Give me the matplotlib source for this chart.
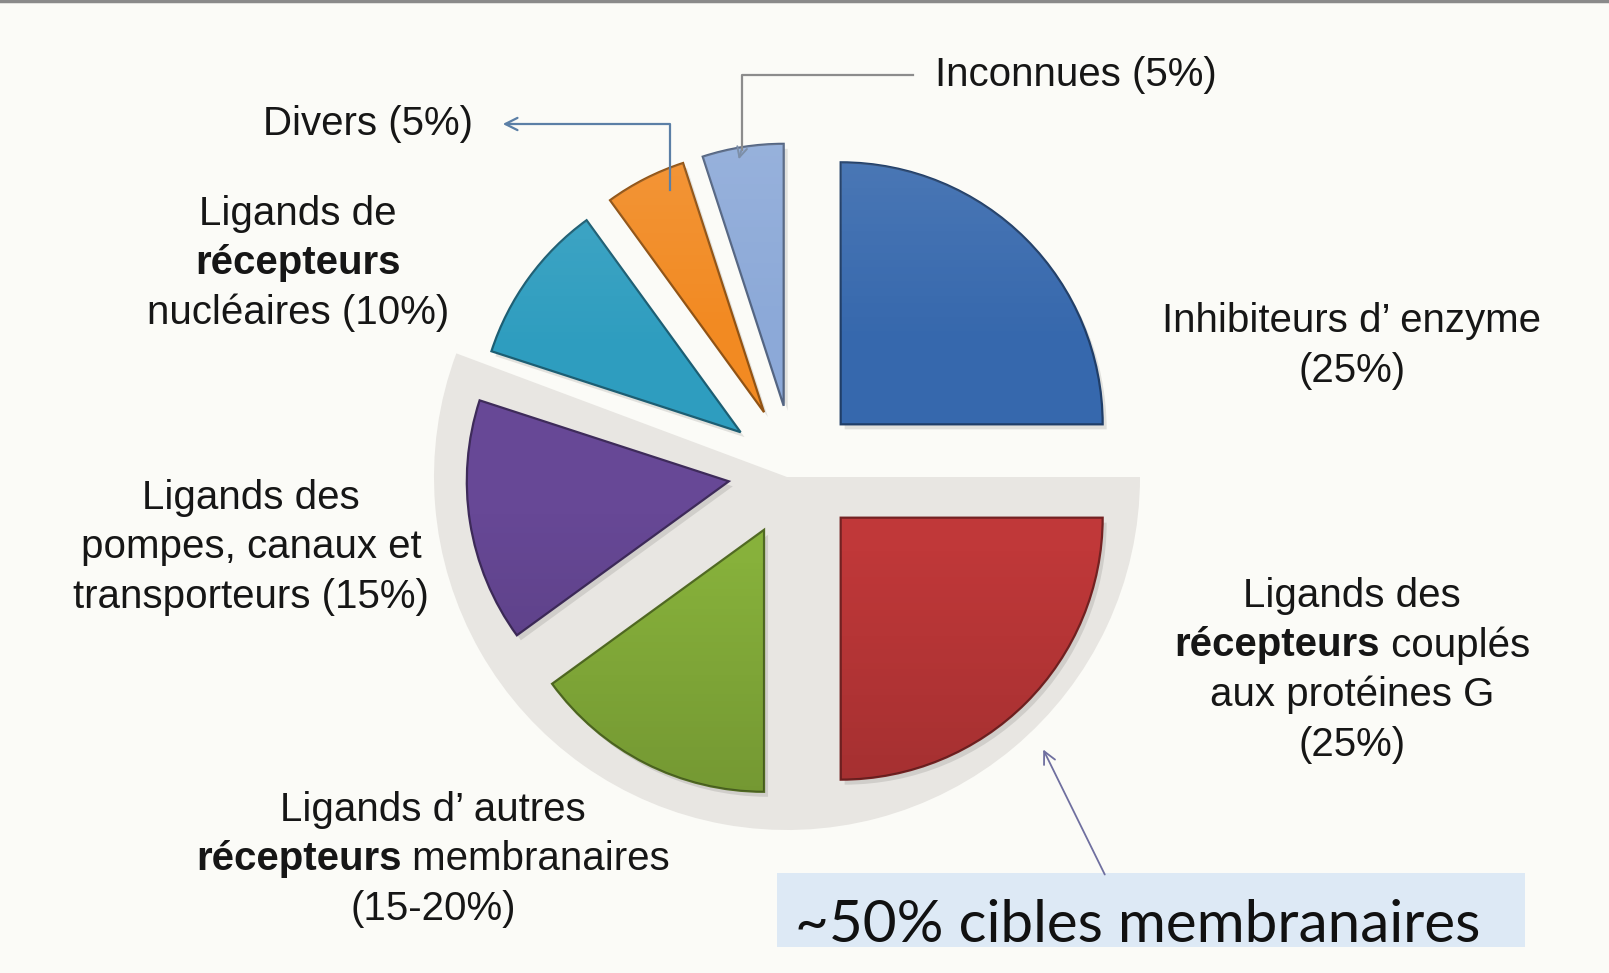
import numpy as np
import matplotlib
matplotlib.use("Agg")
import matplotlib.pyplot as plt
from matplotlib.patches import Wedge, Rectangle
from matplotlib.colors import to_rgb

W, H = 1609, 973
BG = "#fbfbf7"
FONT = ["Liberation Sans", "DejaVu Sans"]

# --- data -------------------------------------------------------------
categories = ["Inhibiteurs d’ enzyme",
              "Ligands des récepteurs couplés aux protéines G",
              "Ligands d’ autres récepteurs membranaires",
              "Ligands des pompes, canaux et transporteurs",
              "Ligands de récepteurs nucléaires",
              "Divers",
              "Inconnues"]
shares = [25, 25, 15, 15, 10, 5, 5]
is_membrane = [False, True, True, True, False, False, False]
colors = ["#3668ad", "#c03839", "#87b13b", "#674896", "#2e9dbf", "#f28a22", "#8ca9d8"]

# label lines: list of (text, weight) runs per line
label_lines = [
    [[("Inhibiteurs d’ enzyme", "normal")], [("(25%)", "normal")]],
    [[("Ligands des", "normal")],
     [("récepteurs", "bold"), (" couplés", "normal")],
     [("aux protéines G", "normal")],
     [("(25%)", "normal")]],
    [[("Ligands d’ autres", "normal")],
     [("récepteurs", "bold"), (" membranaires", "normal")],
     [("(15-20%)", "normal")]],
    [[("Ligands des", "normal")],
     [("pompes, canaux et", "normal")],
     [("transporteurs (15%)", "normal")]],
    [[("Ligands de", "normal")],
     [("récepteurs", "bold")],
     [("nucléaires (10%)", "normal")]],
    [[("Divers (5%)", "normal")]],
    [[("Inconnues (5%)", "normal")]],
]
# anchor x, first line y, alignment
label_x = [1352, 1352, 433, 251, 298, 473, 935]
label_y = [321, 596, 810, 498, 214, 124, 75]
label_ha = ["center", "center", "center", "center", "center", "right", "left"]

summary_text = "~50% cibles membranaires"

# --- figure -----------------------------------------------------------
fig = plt.figure(figsize=(W / 100, H / 100), dpi=100, facecolor=BG)
ax = fig.add_axes([0, 0, 1, 1])
ax.set_facecolor(BG)

CX, CY, R, EXPL = 794, 471, 262, 66

# grey backdrop behind the membrane targets
start = -90 + 360 * sum(shares[:is_membrane.index(True)]) / 100
span = 360 * sum(s for s, m in zip(shares, is_membrane) if m) / 100
ax.add_patch(Wedge((787, 477), 353, start, start + span + 2.5,
                   facecolor="#e8e6e2", edgecolor="none", zorder=1))

# soft shadows
ang = -90.0
for s in shares:
    mid = np.deg2rad(ang + 180 * s / 100)
    c = (CX + EXPL * np.cos(mid) + 4, CY + EXPL * np.sin(mid) + 5)
    ax.add_patch(Wedge(c, R, ang, ang + 360 * s / 100, facecolor="black",
                       edgecolor="none", alpha=0.10, zorder=2))
    ang += 360 * s / 100

wedges, _ = ax.pie(shares, colors=colors, radius=R, center=(CX, CY),
                   explode=[EXPL] * len(shares), startangle=-90,
                   counterclock=True, frame=True,
                   wedgeprops=dict(linewidth=1.6, zorder=3))

for w, col in zip(wedges, colors):
    rgb = np.array(to_rgb(col))
    w.set_edgecolor(tuple(rgb * 0.6))
    w.set_zorder(3)
    # shading: slightly lighter on top, darker towards the bottom
    n = 256
    t = np.linspace(0, 1, n)[:, None]
    grad = np.zeros((n, 2, 4))
    light = np.clip(1 - t / 0.35, 0, 1)
    dark = np.clip((t - 0.55) / 0.45, 0, 1)
    grad[..., :3] = np.where(light[..., None] > 0, 1.0, 0.0)
    grad[..., 3] = (0.10 * light + 0.14 * dark)
    cx, cy = w.center
    im = ax.imshow(grad, extent=(cx - R, cx + R, cy + R, cy - R),
                   origin="upper", zorder=4, interpolation="bilinear")
    im.set_clip_path(w)

# --- leader lines -----------------------------------------------------
ax.plot([670, 670, 510], [190, 124, 124], color="#5b7fa6", lw=1.6, zorder=5)
ax.annotate("", xy=(500, 124), xytext=(515, 124),
            arrowprops=dict(arrowstyle="->", color="#5b7fa6", lw=1.6,
                            mutation_scale=22), zorder=5)
ax.plot([742, 742, 913], [150, 75, 75], color="#8c8c8c", lw=1.6, zorder=5)
ax.annotate("", xy=(738, 162), xytext=(742, 148),
            arrowprops=dict(arrowstyle="->", color="#7d8fa8", lw=1.4,
                            mutation_scale=18), zorder=5)
ax.annotate("", xy=(1042, 747), xytext=(1106, 877),
            arrowprops=dict(arrowstyle="->", color="#6f6f9f", lw=1.3,
                            mutation_scale=22), zorder=5)

# --- labels -----------------------------------------------------------
renderer = fig.canvas.get_renderer()
SIZE = 29
LINE = 49.5
for lines, x0, y0, ha in zip(label_lines, label_x, label_y, label_ha):
    for i, runs in enumerate(lines):
        y = y0 + i * LINE
        texts = [ax.text(0, y, s, fontsize=SIZE, fontweight=wt, family=FONT,
                         color="#161616", va="center", ha="left", zorder=6)
                 for s, wt in runs]
        widths = [t.get_window_extent(renderer).width for t in texts]
        total = sum(widths)
        if ha == "center":
            x = x0 - total / 2
        elif ha == "right":
            x = x0 - total
        else:
            x = x0
        for t, wd in zip(texts, widths):
            t.set_x(x)
            x += wd

# --- summary box ------------------------------------------------------
ax.add_patch(Rectangle((777, 873), 748, 74, facecolor="#dde9f5",
                       edgecolor="none", zorder=1))
ax.text(795, 942, summary_text, fontsize=42, family=["Lato", "DejaVu Sans"],
        color="#111111", va="baseline", ha="left", zorder=6)

# top border line
ax.plot([0, W], [1, 1], color="#8a8a8a", lw=2.5, zorder=7)

ax.set_xlim(0, W)
ax.set_ylim(H, 0)
ax.set_aspect("auto")
ax.axis("off")

fig.savefig("out.png", dpi=100, facecolor=BG)
